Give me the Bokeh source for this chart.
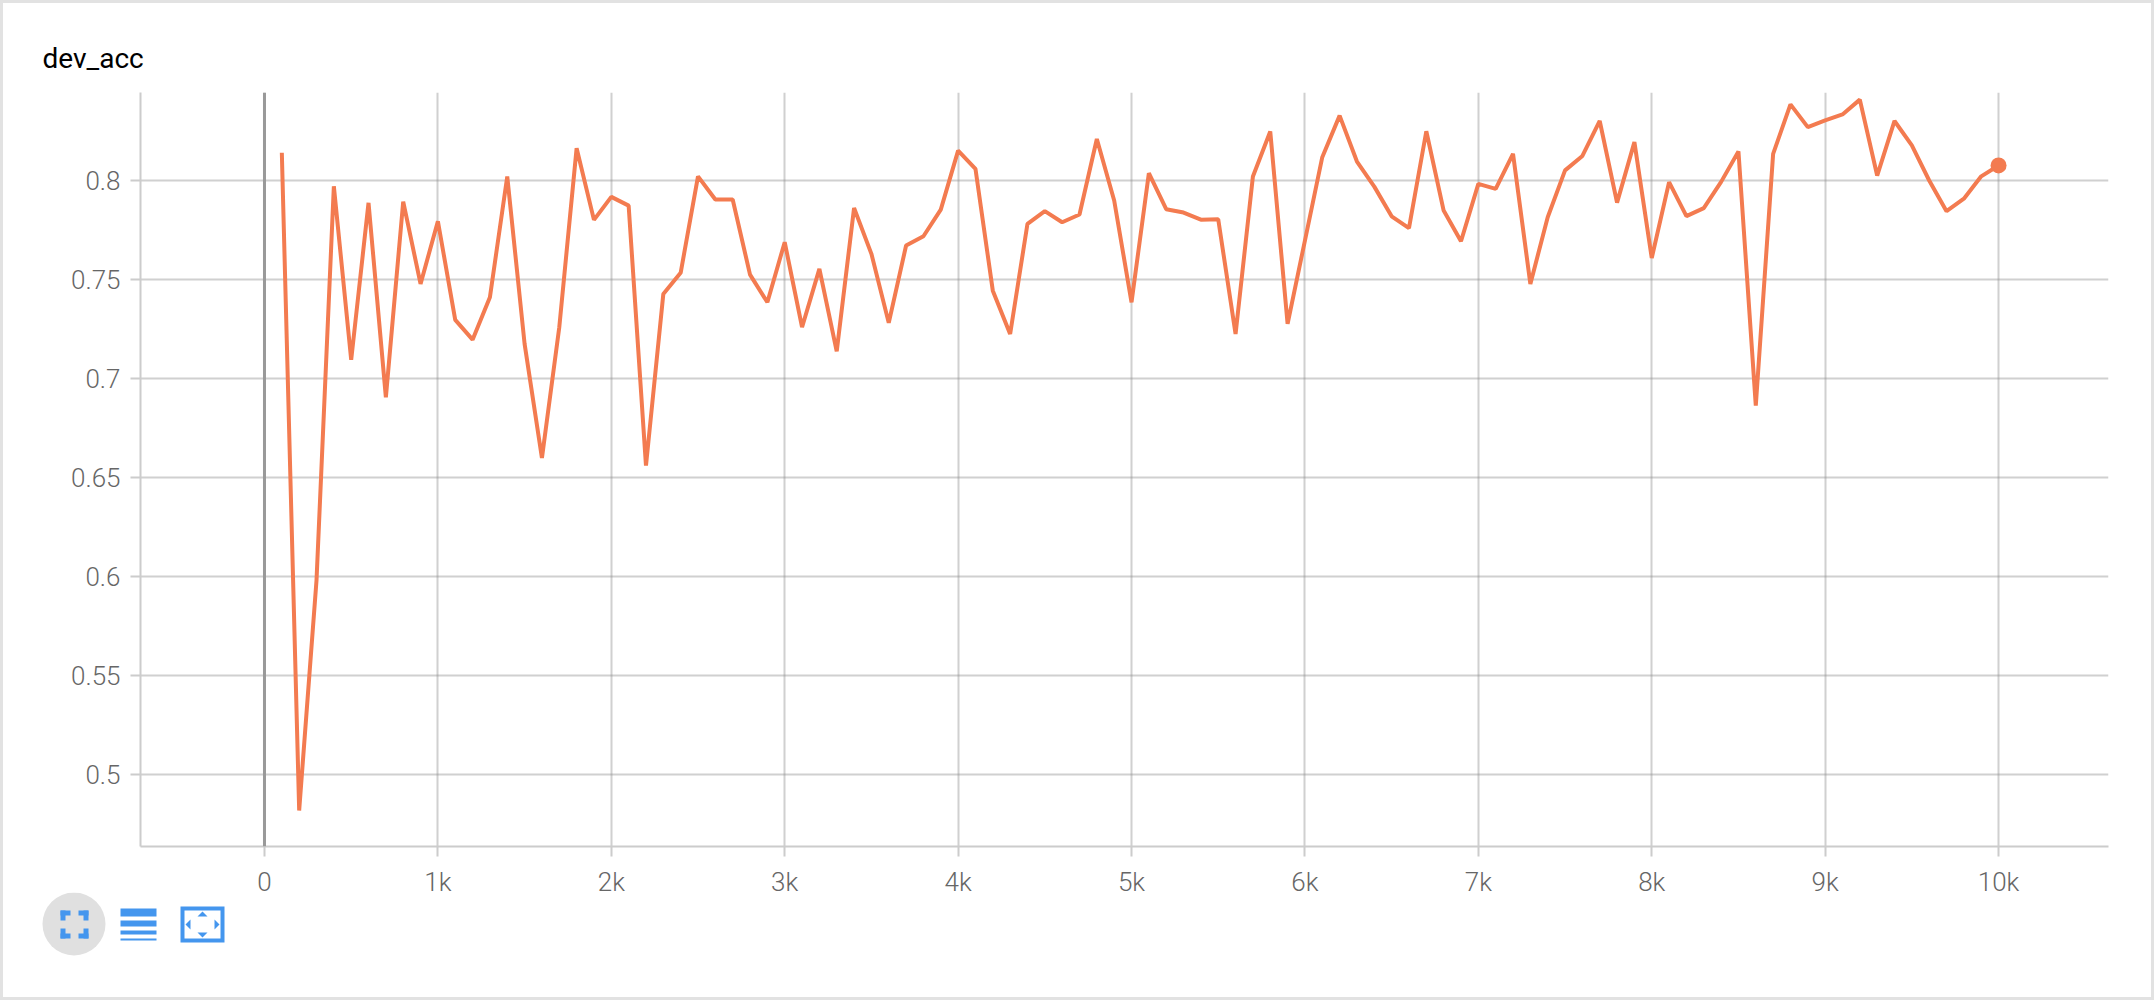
from bokeh.plotting import figure
from bokeh.layouts import column
from bokeh.models import FixedTicker, Span
from bokeh.embed import file_html
from bokeh.resources import INLINE

title_text = "dev_acc"
steps = [100 * (i + 1) for i in range(100)]
dev_acc = [
    .8142, .4816, .598, .7973, .7095, .7889, .6906, .7895, .7479, .7796,
    .7297, .7197, .7412, .8022, .7176, .6599, .7260, .8165, .7803, .7919,
    .7875, .6560, .7428, .7535, .8023, .7906, .7906, .7526, .7386, .7690,
    .7260, .7555, .7138, .7863, .7631, .7282, .7673, .7720, .7855, .8153,
    .8061, .7445, .7226, .7783, .7847, .7791, .7830, .8212, .7901, .7386,
    .8039, .7857, .7840, .7804, .7806, .7226, .8022, .8250, .7277, .7698,
    .8120, .8330, .8098, .7971, .7821, .7761, .8251, .7850, .7695, .7985,
    .7960, .8137, .7479, .7816, .8053, .8126, .8303, .7890, .8196, .7610,
    .7994, .7822, .7862, .7995, .8149, .6864, .8137, .8387, .8272, .8306,
    .8336, .8411, .8027, .8303, .8180, .8002, .7847, .7910, .8023, .8078,
]
x_ticks = [0, 1000, 2000, 3000, 4000, 5000, 6000, 7000, 8000, 9000, 10000]
x_labels = ["0", "1k", "2k", "3k", "4k", "5k", "6k", "7k", "8k", "9k", "10k"]
y_ticks = [0.5, 0.55, 0.6, 0.65, 0.7, 0.75, 0.8]
y_labels = ["0.5", "0.55", "0.6", "0.65", "0.7", "0.75", "0.8"]

LINE = "#f37b50"
BLUE = "#4496ee"
TICK_FONT = "Roboto Light"
GRID = "#8a8a8a"

p = figure(
    width=2154, height=899, output_backend="svg", toolbar_location=None,
    x_range=(-715, 10634), y_range=(0.4634, 0.8447),
    min_border_left=140, min_border_right=46, min_border_top=92, min_border_bottom=53,
    background_fill_color=None, border_fill_color=None,
    frame_align=False,
)
p.outline_line_color = None
p.title.text = title_text
p.title.align = "left"
p.title.offset = -98
p.title.standoff = 36
p.title.text_font = "Roboto"
p.title.text_font_style = "normal"
p.title.text_font_size = "28px"
p.title.text_color = "black"

for ax, ticks, labels in ((p.xaxis, x_ticks, x_labels), (p.yaxis, y_ticks, y_labels)):
    ax.ticker = FixedTicker(ticks=ticks)
    ax.major_label_overrides = dict(zip(ticks, labels))
    ax.minor_tick_line_color = None
    ax.major_tick_in = 0
    ax.major_tick_out = 10
    ax.major_tick_line_color = "#cccccc"
    ax.major_tick_line_width = 2
    ax.axis_line_color = "#cccccc"
    ax.axis_line_width = 2
    ax.major_label_text_font = TICK_FONT
    ax.major_label_text_font_size = "26px"
    ax.major_label_text_color = "#666666"
    ax.major_label_standoff = 10

for g in (p.xgrid, p.ygrid):
    g.grid_line_color = GRID
    g.grid_line_alpha = 0.4
    g.grid_line_width = 2

p.add_layout(Span(location=0, dimension="height", line_color="#999999", line_width=3))

p.line(steps, dev_acc, line_color=LINE, line_width=4, line_join="bevel", line_cap="butt")
p.scatter(steps[-1:], dev_acc[-1:], size=16, fill_color=LINE, line_color=None)

# icon strip: a second figure whose data space is the page's pixels
q = figure(
    width=2154, height=108, output_backend="svg", toolbar_location=None,
    x_range=(0, 2154), y_range=(1000, 892),
    min_border=0, min_border_left=0, min_border_right=0, min_border_top=0, min_border_bottom=0,
    background_fill_color=None, border_fill_color=None,
    margin=(-7, 0, 0, 0), frame_align=False,
)
q.axis.visible = False
q.grid.visible = False
q.outline_line_color = None


def box(l, t, r, b, color):
    q.quad(left=[l], right=[r], top=[t], bottom=[b], fill_color=color, line_color=None)


def tri(xs, ys):
    q.patch(xs, ys, fill_color=BLUE, line_color=None)


q.circle(x=[73.5], y=[923.5], radius=31.5, fill_color="#e0e0e0", line_color=None)
for l, t, r, b in ((60, 910, 70, 915), (60, 910, 65, 920), (78, 910, 88, 915), (83, 910, 88, 920),
                   (60, 933, 70, 938), (60, 928, 65, 938), (78, 933, 88, 938), (83, 928, 88, 938)):
    box(l, t, r, b, BLUE)
for t, b in ((908, 916), (920, 926), (930, 934), (938, 940)):
    box(120, t, 156, b, BLUE)
box(180, 906, 224, 942, BLUE)
box(184, 910, 220, 938, "white")
tri([202, 197, 207], [911, 916, 916])
tri([202, 197, 207], [937, 932, 932])
tri([185, 190, 190], [924, 919, 929])
tri([219, 214, 214], [924, 919, 929])

page = column(p, q, spacing=0, styles={"outline": "3px solid #e2e2e2", "outline-offset": "-3px",
                                       "background": "white"})

open("out.html", "w").write(file_html(page, INLINE))
